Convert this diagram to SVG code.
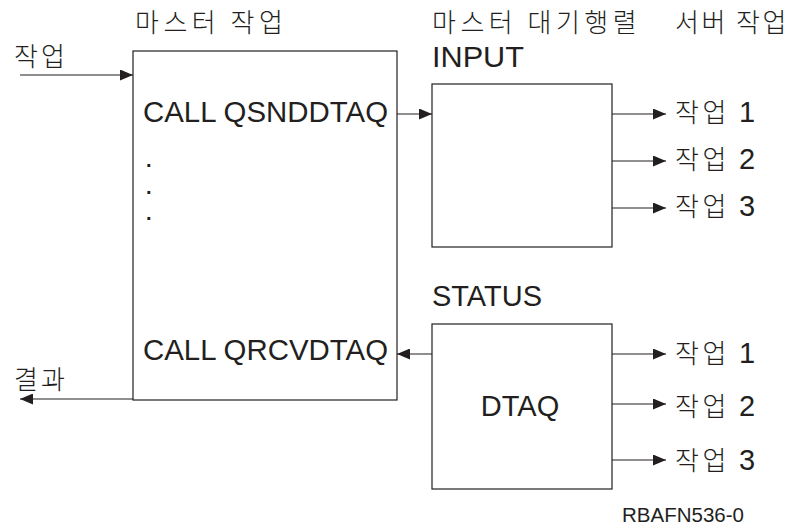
<svg xmlns="http://www.w3.org/2000/svg" width="794" height="525" viewBox="0 0 794 525">
<style>
.box{fill:#fff;stroke:#231f20;stroke-width:1.2}
.ln{stroke:#231f20;stroke-width:1.2;fill:none}
.t{font-family:"Liberation Sans","Noto Sans CJK KR",sans-serif;fill:#231f20;font-size:29px}
.k{font-family:"Noto Sans CJK KR","Liberation Sans",sans-serif;fill:#231f20;font-size:26px;letter-spacing:4.5px;font-weight:300}
.d{font-family:"Liberation Sans",sans-serif;fill:#231f20;font-size:20px;font-weight:bold}
</style>
<defs>
<marker id="ah" markerWidth="13" markerHeight="11" refX="13" refY="5.5" orient="auto" markerUnits="userSpaceOnUse">
<path d="M0,0 L13,5.5 L0,11 Z" fill="#231f20"/>
</marker>
</defs>
<g id="labels">
<text class="k" x="135" y="32">마스터 작업</text>
<text class="k" x="432" y="32">마스터 대기행렬</text>
<text class="k" x="675" y="32" style="letter-spacing:2.5px">서버 작업</text>
<text class="k" x="14" y="66" style="letter-spacing:3px">작업</text>
<text class="k" x="14" y="389" style="letter-spacing:3px">결과</text>
<text class="t" x="622" y="522" style="font-size:20.5px">RBAFN536-0</text>
</g>
<g id="master">
<rect class="box" x="133" y="51" width="264" height="349"/>
<text class="t" x="143" y="122" textLength="245" lengthAdjust="spacingAndGlyphs">CALL QSNDDTAQ</text>
<text class="d" x="146" y="167">.</text>
<text class="d" x="146" y="194">.</text>
<text class="d" x="146" y="220">.</text>
<text class="t" x="143" y="360" textLength="245" lengthAdjust="spacingAndGlyphs">CALL QRCVDTAQ</text>
</g>
<g id="input">
<text class="t" x="432" y="67" textLength="92" lengthAdjust="spacingAndGlyphs">INPUT</text>
<rect class="box" x="432" y="84" width="180" height="163"/>
</g>
<g id="status">
<text class="t" x="432" y="306" textLength="110" lengthAdjust="spacingAndGlyphs">STATUS</text>
<rect class="box" x="432" y="324" width="180" height="165"/>
<text class="t" x="520" y="416" text-anchor="middle">DTAQ</text>
</g>
<g id="jobs">
<text class="k" x="675" y="122" style="letter-spacing:3.5px">작업 <tspan class="t" style="letter-spacing:0;font-weight:normal">1</tspan></text>
<text class="k" x="675" y="169" style="letter-spacing:3.5px">작업 <tspan class="t" style="letter-spacing:0;font-weight:normal">2</tspan></text>
<text class="k" x="675" y="216" style="letter-spacing:3.5px">작업 <tspan class="t" style="letter-spacing:0;font-weight:normal">3</tspan></text>
<text class="k" x="675" y="363" style="letter-spacing:3.5px">작업 <tspan class="t" style="letter-spacing:0;font-weight:normal">1</tspan></text>
<text class="k" x="675" y="416" style="letter-spacing:3.5px">작업 <tspan class="t" style="letter-spacing:0;font-weight:normal">2</tspan></text>
<text class="k" x="675" y="470" style="letter-spacing:3.5px">작업 <tspan class="t" style="letter-spacing:0;font-weight:normal">3</tspan></text>
</g>
<g id="connectors">
<line class="ln" x1="20" y1="75" x2="133" y2="75" marker-end="url(#ah)"/>
<line class="ln" x1="397" y1="114" x2="432" y2="114" marker-end="url(#ah)"/>
<line class="ln" x1="612" y1="114" x2="666" y2="114" marker-end="url(#ah)"/>
<line class="ln" x1="612" y1="161" x2="666" y2="161" marker-end="url(#ah)"/>
<line class="ln" x1="612" y1="208" x2="666" y2="208" marker-end="url(#ah)"/>
<line class="ln" x1="432" y1="354" x2="397" y2="354" marker-end="url(#ah)"/>
<line class="ln" x1="612" y1="354" x2="666" y2="354" marker-end="url(#ah)"/>
<line class="ln" x1="612" y1="404" x2="666" y2="404" marker-end="url(#ah)"/>
<line class="ln" x1="612" y1="460" x2="666" y2="460" marker-end="url(#ah)"/>
<line class="ln" x1="133" y1="399" x2="20" y2="399" marker-end="url(#ah)"/>
</g>
</svg>
